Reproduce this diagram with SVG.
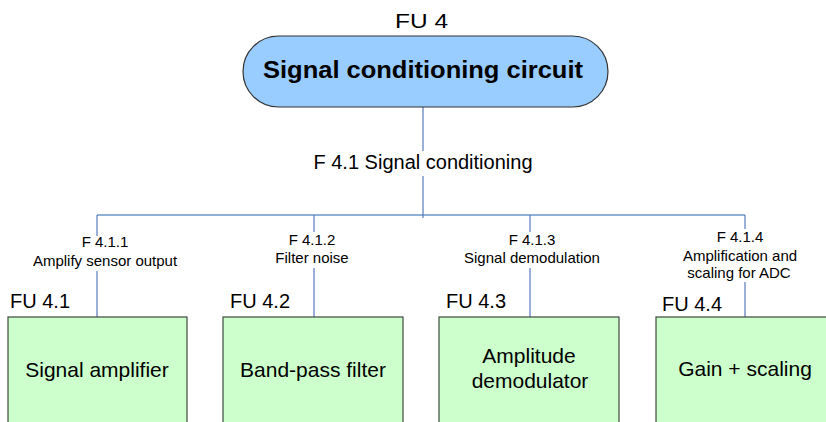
<svg xmlns="http://www.w3.org/2000/svg" width="826" height="422" viewBox="0 0 826 422">
  <style>
    text { font-family: "Liberation Sans", Arial, sans-serif; fill: #000; }
    .fu { font-size: 20px; }
    .lbl { font-size: 15px; text-anchor: middle; }
    .box { fill: #CCFFCC; stroke: #3C4A3C; stroke-width: 1.2; }
    .boxtxt { font-size: 21px; text-anchor: middle; }
    .wire { stroke: #4A70B8; stroke-width: 1.1; fill: none; }
    .bus { stroke: #90B0DA; stroke-width: 2; fill: none; }
    .gap { fill: #fff; }
  </style>
  <rect width="826" height="422" fill="#fff"/>

  <g id="connectors">
    <path class="bus" d="M97 215 H745"/>
    <path class="wire" d="M423 107 V218 M97 215 V317 M314 215 V317 M530 215 V317 M745 215 V317"/>
  </g>

  <!-- label backgrounds interrupt the wires -->
  <g id="labels">
    <rect class="gap" x="310" y="151" width="226" height="25"/>
    <text x="423" y="169" style="font-size:20px;text-anchor:middle">F 4.1 Signal conditioning</text>
    <rect class="gap" x="30" y="236" width="150" height="35"/>
    <text class="lbl" x="105" y="247">F 4.1.1</text>
    <text class="lbl" x="105" y="266">Amplify sensor output</text>
    <rect class="gap" x="272" y="232" width="82" height="36"/>
    <text class="lbl" x="312" y="245">F 4.1.2</text>
    <text class="lbl" x="312" y="263">Filter noise</text>
    <rect class="gap" x="461" y="232" width="142" height="36"/>
    <text class="lbl" x="532" y="245">F 4.1.3</text>
    <text class="lbl" x="532" y="263">Signal demodulation</text>
    <rect class="gap" x="680" y="229" width="120" height="53"/>
    <text class="lbl" x="740" y="242">F 4.1.4</text>
    <text class="lbl" x="740" y="261">Amplification and</text>
    <text class="lbl" x="739" y="278">scaling for ADC</text>
  </g>

  <g id="fu4">
    <text x="395" y="28" style="font-size:21px" textLength="53" lengthAdjust="spacingAndGlyphs">FU 4</text>
    <rect x="243" y="36" width="365" height="71" rx="35.5" fill="#99CCFF" stroke="#333" stroke-width="1.2"/>
    <text x="263" y="78" style="font-size:23px;font-weight:bold" textLength="320" lengthAdjust="spacingAndGlyphs">Signal conditioning circuit</text>
  </g>

  <g id="fu4_1">
    <text class="fu" x="10" y="308">FU 4.1</text>
    <rect class="box" x="8" y="317" width="179" height="120"/>
    <text class="boxtxt" x="97" y="377">Signal amplifier</text>
  </g>

  <g id="fu4_2">
    <text class="fu" x="230" y="308">FU 4.2</text>
    <rect class="box" x="223" y="317" width="180" height="120"/>
    <text class="boxtxt" x="313" y="377">Band-pass filter</text>
  </g>

  <g id="fu4_3">
    <text class="fu" x="446" y="308">FU 4.3</text>
    <rect class="box" x="439" y="317" width="180" height="120"/>
    <text class="boxtxt" x="529" y="363">Amplitude</text>
    <text class="boxtxt" x="530" y="388">demodulator</text>
  </g>

  <g id="fu4_4">
    <text class="fu" x="662" y="311">FU 4.4</text>
    <rect class="box" x="656" y="317" width="180" height="120"/>
    <text class="boxtxt" x="745" y="376">Gain + scaling</text>
  </g>
</svg>
